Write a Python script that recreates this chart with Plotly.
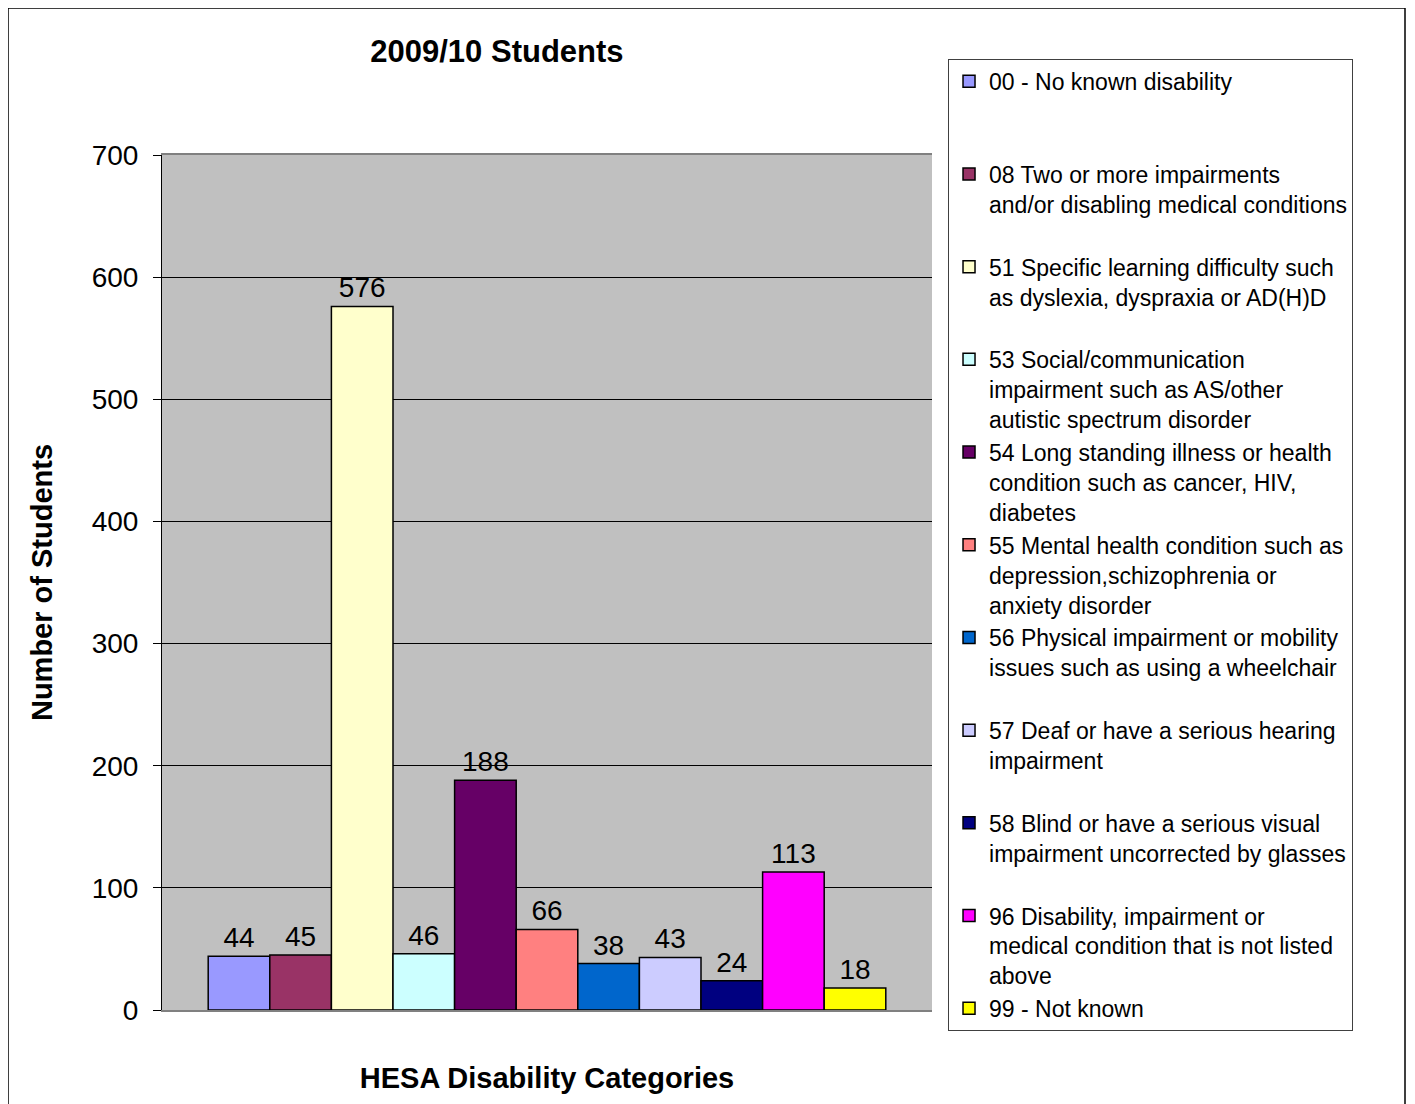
import plotly.graph_objects as go

series_names = [
    "00 - No known disability",
    "08 Two or more impairments<br>and/or disabling medical conditions",
    "51 Specific learning difficulty such<br>as dyslexia, dyspraxia or AD(H)D",
    "53 Social/communication<br>impairment such as AS/other<br>autistic spectrum disorder",
    "54 Long standing illness or health<br>condition such as cancer, HIV,<br>diabetes",
    "55 Mental health condition such as<br>depression,schizophrenia or<br>anxiety disorder",
    "56 Physical impairment or mobility<br>issues such as using a wheelchair",
    "57 Deaf or have a serious hearing<br>impairment",
    "58 Blind or have a serious visual<br>impairment uncorrected by glasses",
    "96 Disability, impairment or<br>medical condition that is not listed<br>above",
    "99 - Not known",
]
values = [44, 45, 576, 46, 188, 66, 38, 43, 24, 113, 18]
colors = ["#9999FF", "#993366", "#FFFFCC", "#CCFFFF", "#660066", "#FF8080",
          "#0066CC", "#CCCCFF", "#000080", "#FF00FF", "#FFFF00"]
category = ["HESA"]
y_ticks = [0, 100, 200, 300, 400, 500, 600, 700]

FONT = "Liberation Sans, Arial, sans-serif"

fig = go.Figure()
for i, (name, v, c) in enumerate(zip(series_names, values, colors)):
    nlines = name.count("<br>") + 1
    padded = name if i == len(series_names) - 1 else name + "<br> " * (3 - nlines)
    fig.add_trace(go.Bar(
        x=category, y=[v], name=padded,
        marker=dict(color=c, line=dict(color="black", width=1.5)),
        text=[str(v)], textposition="outside", cliponaxis=False,
        textfont=dict(size=28, color="black", family=FONT),
    ))

W, H = 1407, 1096
fig.update_layout(
    width=W, height=H,
    barmode="group", bargap=0.12, bargroupgap=0,
    paper_bgcolor="white", plot_bgcolor="#C0C0C0",
    font=dict(family=FONT, color="black"),
    margin=dict(l=154, r=483, t=147, b=94, autoexpand=False),
    title=dict(text="<b>2009/10 Students</b>", font=dict(size=31, family=FONT, color="black"),
               x=0.435, xref="paper", xanchor="center", y=1 - 43 / H, yref="container", yanchor="middle"),
    showlegend=True,
    legend=dict(x=1.0208, y=1.1125, xanchor="left", yanchor="top",
                bordercolor="#404040", borderwidth=1, bgcolor="white",
                font=dict(size=23, family=FONT, color="black"),
                valign="top", traceorder="normal", itemclick=False,
                maxheight=1090),
    xaxis=dict(showticklabels=False, ticks="", showgrid=False,
               showline=True, linecolor="#808080", linewidth=2, mirror=True,
               title=dict(text="<b>HESA Disability Categories</b>", font=dict(size=29, family=FONT), standoff=57)),
    yaxis=dict(range=[0, 700], tickvals=y_ticks, ticks="outside", ticklen=8, tickcolor="black",
               tickfont=dict(size=28, family=FONT), ticklabelstandoff=9,
               showgrid=True, gridcolor="black", gridwidth=1,
               showline=True, linecolor="black", linewidth=1, zeroline=False,
               title=dict(text="<b>Number of Students</b>", font=dict(size=29, family=FONT), standoff=30)),
)

# outer chart-area border
fig.add_shape(type="rect", xref="paper", yref="paper",
              x0=(8 - 162) / 770, x1=(1405 - 162) / 770,
              y0=(1010 - 1120) / 855, y1=(1010 - 8) / 855,
              line=dict(color="black", width=1.5), fillcolor="rgba(0,0,0,0)", layer="below")

fig.write_html("out.html")
